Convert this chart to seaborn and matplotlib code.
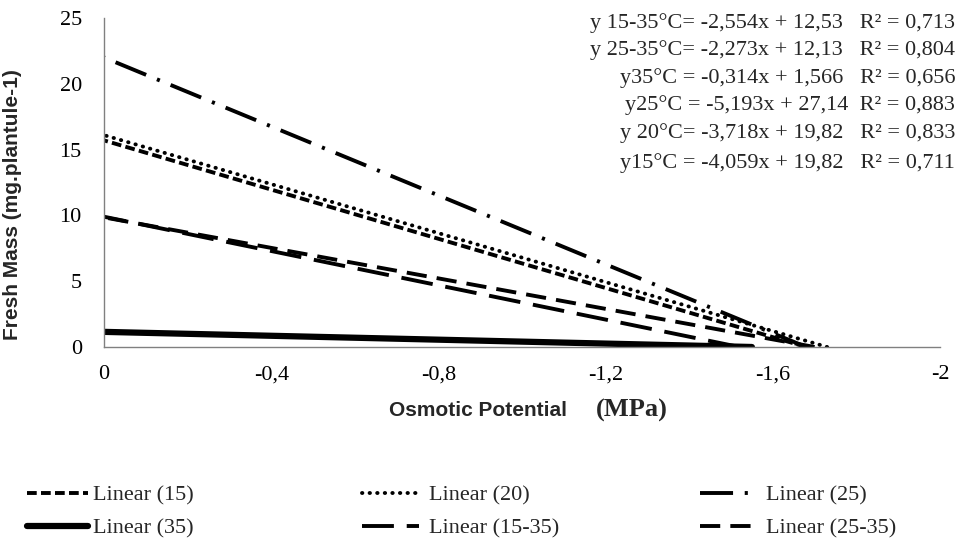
import pandas as pd
import numpy as np
import matplotlib
matplotlib.use("Agg")
import matplotlib.pyplot as plt
import seaborn as sns

# trend lines: start value at 0 MPa, end where they reach 0
series = ["Linear (15)", "Linear (20)", "Linear (25)", "Linear (35)", "Linear (15-35)", "Linear (25-35)"]
x_15 = [0, -1.68]
y_15 = [15.7, 0]
x_20 = [0, -1.73]
y_20 = [16.1, 0]
x_25 = [0, -1.68]
y_25 = [22.0, 0]
x_35 = [0, -1.55]
y_35 = [1.15, 0]
x_15_35 = [0, -1.52]
y_15_35 = [9.9, 0]
x_25_35 = [0, -1.70]
y_25_35 = [9.85, 0]

x_ticks = [0, -0.4, -0.8, -1.2, -1.6, -2]
x_tick_labels = ["0", "-0,4", "-0,8", "-1,2", "-1,6", "-2"]
y_ticks = [0, 5, 10, 15, 20, 25]

equations = ["y 15-35°C= -2,554x + 12,53   R² = 0,713",
             "y 25-35°C= -2,273x + 12,13   R² = 0,804",
             "y35°C = -0,314x + 1,566   R² = 0,656",
             "y25°C = -5,193x + 27,14  R² = 0,883",
             "y 20°C= -3,718x + 19,82   R² = 0,833",
             "y15°C = -4,059x + 19,82   R² = 0,711"]
eq_y_px = [23, 50, 78, 105, 133, 163]

sns.set_style("white")
plt.rcParams['font.family'] = ['Liberation Serif', 'DejaVu Serif']

W, H = 958, 541
fig = plt.figure(figsize=(W/100, H/100), dpi=100)
ax = fig.add_axes([104/W, 1-347/H, (940-104)/W, (347-18)/H])

styles = {
    "Linear (15)":    dict(linestyle=(0, (2.5, 1.1)), lw=2.8),
    "Linear (20)":    dict(linestyle=(0, (0.1, 1.85)), lw=2.8, dash_capstyle="round"),
    "Linear (25)":    dict(linestyle=(0, (8.5, 3, 0.8, 3)), lw=2.8),
    "Linear (35)":    dict(linestyle="-", lw=4.5),
    "Linear (15-35)": dict(linestyle=(0, (8.2, 3.3)), lw=2.8),
    "Linear (25-35)": dict(linestyle=(0, (5.2, 2.6)), lw=2.8),
}
xs = [x_15, x_20, x_25, x_35, x_15_35, x_25_35]
ys = [y_15, y_20, y_25, y_35, y_15_35, y_25_35]

handles = {}
for name, xv, yv in zip(series, xs, ys):
    df = pd.DataFrame({"x": xv, "y": yv})
    sns.lineplot(data=df, x="x", y="y", ax=ax, color="black", **styles[name])
    handles[name] = ax.lines[-1]

ax.set_xlim(0, -2)
ax.set_ylim(0, 25)
ax.set_xticks(x_ticks)
ax.set_xticklabels(x_tick_labels)
ax.set_yticks(y_ticks)
ax.tick_params(labelsize=16, colors="#808080", labelcolor="black", length=6, width=1)
ax.tick_params(axis="x", pad=7)
ax.tick_params(axis="y", pad=10)
for s in ["top", "right"]:
    ax.spines[s].set_visible(False)
for s in ["left", "bottom"]:
    ax.spines[s].set_color("#808080")
    ax.spines[s].set_linewidth(1)
ax.set_xlabel("")
ax.set_ylabel("Fresh Mass (mg.plantule-1)", fontsize=15, fontweight="bold",
              family=["Liberation Sans", "DejaVu Sans"])
ax.yaxis.set_label_coords((22-104)/(940-104), (347-205)/(347-18))

fig.text(478/W, 1-410/H, "Osmotic Potential", ha="center", va="center", fontsize=15,
         fontweight="bold", family=["Liberation Sans", "DejaVu Sans"])
fig.text(596/W, 1-410/H, "(MPa)", ha="left", va="center", fontsize=19, fontweight="bold")

for txt, yp in zip(equations, eq_y_px):
    fig.text(955/W, 1-yp/H, txt, ha="right", va="center", fontsize=16)

# legend: three columns, two rows (x position, handle length, text pad)
cols = [(["Linear (15)", "Linear (35)"], 27, 2.75, 0.2),
        (["Linear (20)", "Linear (15-35)"], 362, 2.55, 0.45),
        (["Linear (25)", "Linear (25-35)"], 700, 2.4, 0.55)]
for names, xp, hl, tp in cols:
    fig.legend([handles[n] for n in names], names, loc="upper left",
               bbox_to_anchor=(xp/W, 1-485/H), frameon=False, fontsize=16,
               handlelength=hl, handletextpad=tp, borderpad=0, borderaxespad=0,
               labelspacing=0.55)

plt.savefig("out.png", dpi=100)
